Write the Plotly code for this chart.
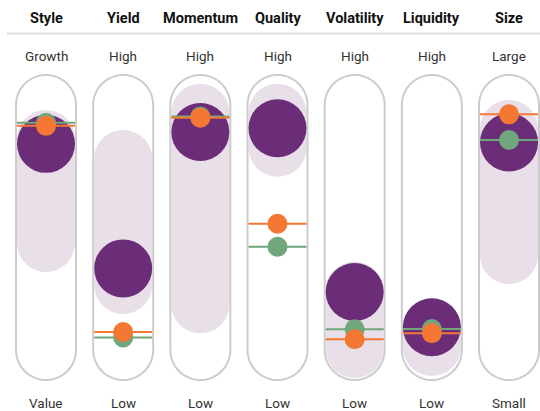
import numpy as np
import plotly.graph_objects as go

# ---------------- data ----------------
categories = ["Style", "Yield", "Momentum", "Quality", "Volatility", "Liquidity", "Size"]
high_labels = ["Growth", "High", "High", "High", "High", "High", "Large"]
low_labels = ["Value", "Low", "Low", "Low", "Low", "Low", "Small"]
fund_score = [85.9, 34.0, 90.8, 92.4, 24.2, 9.5, 86.5]
range_low = [44.6, 27.1, 19.0, 84.3, 0.4, 1.3, 39.6]
range_high = [87.9, 79.6, 98.8, 98.8, 24.7, 8.8, 92.1]
category_score = [93.4, 7.5, 96.8, 52.6, 4.5, 7.0, 98.2]
index_score = [94.7, 5.2, 97.3, 43.0, 8.6, 8.7, 87.5]

# ---------------- style / layout ----------------
W, H = 540, 411
PX_X = 77.17          # pixels per category step
PX_Y = 2.4            # pixels per score point
X0_PX = 46            # pixel x of first category
S0_PX = 350           # pixel y of score 0
PILL_TOP, PILL_BOT = 102.1, 0.0
PURPLE = "#6B2D77"
LIGHT = "#E8DFE8"
ORANGE = "#F47733"
GREEN = "#6FA67B"
OUTLINE = "#CCCCCC"
FONT = "Roboto, Liberation Sans, sans-serif"

xr = [-X0_PX / PX_X, (W - X0_PX) / PX_X]
yr = [(S0_PX - H) / PX_Y, S0_PX / PX_Y]


def capsule(xc, s_a, s_b, r_px, n=32):
    top, bot = max(s_a, s_b), min(s_a, s_b)
    rx, ry = r_px / PX_X, r_px / PX_Y
    pts = []
    for t in np.linspace(np.pi, 0, n):
        pts.append((xc + rx * np.cos(t), top + ry * np.sin(t)))
    for t in np.linspace(0, -np.pi, n):
        pts.append((xc + rx * np.cos(t), bot + ry * np.sin(t)))
    return "M " + " L ".join(f"{x:.4f},{y:.4f}" for x, y in pts) + " Z"


fig = go.Figure()
shapes = []
xs = list(range(len(categories)))

for i in xs:
    shapes.append(dict(type="path", path=capsule(i, range_low[i], range_high[i], 29),
                       fillcolor=LIGHT, line=dict(width=0), layer="below"))
    shapes.append(dict(type="path", path=capsule(i, PILL_TOP, PILL_BOT, 30),
                       fillcolor="rgba(0,0,0,0)", line=dict(color=OUTLINE, width=2), layer="below"))

# separator under header
shapes.append(dict(type="line", xref="paper", yref="paper", x0=7 / W, x1=1,
                   y0=1 - 33.5 / H, y1=1 - 33.5 / H, line=dict(color="#DDDDDD", width=2)))

# fund big circles
fig.add_trace(go.Scatter(x=xs, y=fund_score, mode="markers",
                         marker=dict(size=58, color=PURPLE, line=dict(width=0)),
                         name="Fund", showlegend=False))

half = 29 / PX_X
# index and category lines
for scores, col, name in [(index_score, GREEN, "Index"), (category_score, ORANGE, "Category")]:
    lx, ly = [], []
    for i, s in zip(xs, scores):
        lx += [i - half, i + half, None]
        ly += [s, s, None]
    fig.add_trace(go.Scatter(x=lx, y=ly, mode="lines", line=dict(color=col, width=2),
                             showlegend=False, hoverinfo="skip", name=name))

for scores, col, name in [(index_score, GREEN, "Index"), (category_score, ORANGE, "Category")]:
    fig.add_trace(go.Scatter(x=xs, y=scores, mode="markers",
                             marker=dict(size=20, color=col, line=dict(width=0)),
                             showlegend=False, name=name))

annotations = []
for i, c in enumerate(categories):
    annotations.append(dict(x=i, y=1 - 18.5 / H, xref="x", yref="paper", text=f"<b>{c}</b>",
                            showarrow=False, yanchor="middle",
                            font=dict(family=FONT, size=14.5, color="#111111")))
    annotations.append(dict(x=i, y=1 - 56 / H, xref="x", yref="paper", text=high_labels[i],
                            showarrow=False, yanchor="middle",
                            font=dict(family=FONT, size=13.5, color="#333333")))
    annotations.append(dict(x=i, y=1 - 403 / H, xref="x", yref="paper", text=low_labels[i],
                            showarrow=False, yanchor="middle",
                            font=dict(family=FONT, size=13.5, color="#333333")))

fig.update_layout(
    width=W, height=H, margin=dict(l=0, r=0, t=0, b=0),
    paper_bgcolor="white", plot_bgcolor="white",
    xaxis=dict(range=xr, visible=False, fixedrange=True),
    yaxis=dict(range=yr, visible=False, fixedrange=True),
    shapes=shapes, annotations=annotations, showlegend=False,
)

fig.write_html("out.html", config={"displayModeBar": False},
               post_script="document.body.style.margin='0';document.body.style.overflow='hidden';")
